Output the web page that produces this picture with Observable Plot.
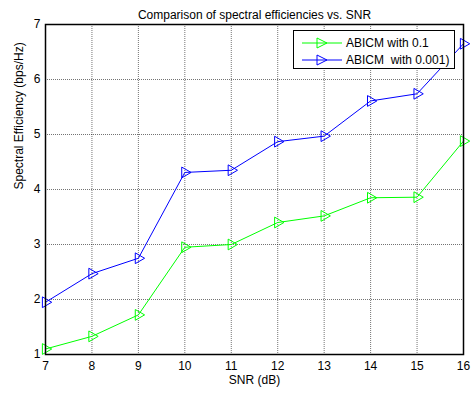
<!DOCTYPE html>
<html>
<head>
<meta charset="utf-8">
<script src="https://cdn.jsdelivr.net/npm/d3@7"></script>
<script src="https://cdn.jsdelivr.net/npm/@observablehq/plot@0.6"></script>
<style>
  body { margin: 0; background: #fff; font-family: "Liberation Sans", Arial, sans-serif; }
  #wrap { position: relative; width: 476px; height: 397px; }
  #legend { position: absolute; left: 293px; top: 30px; width: 162px; height: 39px; border: 1px solid #000; background: #fff; box-sizing: border-box; font-size: 12px; }
  .row { position: absolute; left: 0; height: 14px; display: flex; align-items: center; }
  .row svg { margin-left: 8px; }
  .row span { margin-left: 4px; white-space: pre; }
</style>
</head>
<body>
<div id="wrap"></div>
<script>
const snr = [7, 8, 9, 10, 11, 12, 13, 14, 15, 16];
const eff01 = [1.10, 1.33, 1.72, 2.95, 3.00, 3.40, 3.52, 3.85, 3.86, 4.88];
const eff0001 = [1.95, 2.47, 2.75, 4.31, 4.35, 4.87, 4.97, 5.61, 5.74, 6.65];
const seriesNames = ["ABICM with 0.1", "ABICM  with 0.001)"];
const seriesColors = ["#00ff00", "#0000ff"];
const xTicks = [7, 8, 9, 10, 11, 12, 13, 14, 15, 16];
const yTicks = [1, 2, 3, 4, 5, 6, 7];
const title = "Comparison of spectral efficiencies vs. SNR";
const xLabel = "SNR (dB)";
const yLabel = "Spectral Efficiency (bps/Hz)";

const data = [];
snr.forEach((s, i) => {
  data.push({snr: s, eff: eff01[i], series: seriesNames[0]});
  data.push({snr: s, eff: eff0001[i], series: seriesNames[1]});
});

const chart = Plot.plot({
  width: 476,
  height: 397,
  marginLeft: 45,
  marginRight: 13,
  marginTop: 24,
  marginBottom: 43,
  style: {fontFamily: "Liberation Sans, Arial, sans-serif", fontSize: "11px", color: "#000", background: "#fff"},
  x: {domain: [7, 16]},
  y: {domain: [1, 7]},
  color: {domain: seriesNames, range: seriesColors},
  marks: [
    Plot.gridX(xTicks, {stroke: "#000", strokeOpacity: 0.55, strokeDasharray: "1,1"}),
    Plot.gridY(yTicks, {stroke: "#000", strokeOpacity: 0.55, strokeDasharray: "1,1"}),
    Plot.axisX(xTicks, {tickSize: 0, tickPadding: 7, label: null, fontSize: 12, tickFormat: d => String(d)}),
    Plot.axisY(yTicks, {tickSize: 0, tickPadding: 5, label: null, fontSize: 12, tickFormat: d => String(d)}),
    Plot.line(data, {x: "snr", y: "eff", z: "series", stroke: "series", strokeWidth: 1}),
    Plot.dot(data, {x: "snr", y: "eff", stroke: "series", fill: "none", symbol: "triangle", rotate: 90, r: 4, strokeWidth: 1}),
    Plot.frame({stroke: "#000", strokeWidth: 1.5}),
    Plot.text([title], {frameAnchor: "top", dy: -14, fontSize: 12}),
    Plot.text([xLabel], {frameAnchor: "bottom", dy: 29, fontSize: 12}),
    Plot.text([yLabel], {frameAnchor: "left", dx: -26, rotate: -90, fontSize: 12})
  ]
});
const wrap = document.getElementById("wrap");
wrap.appendChild(chart);

const legend = document.createElement("div");
legend.id = "legend";
seriesNames.forEach((name, i) => {
  const row = document.createElement("div");
  row.className = "row";
  row.style.top = (i === 0 ? 5 : 22) + "px";
  const c = seriesColors[i];
  row.innerHTML = `<svg width="40" height="14"><line x1="0" y1="7" x2="40" y2="7" stroke="${c}" stroke-width="1"/><path d="M15,2 L25,7 L15,12 Z" fill="none" stroke="${c}" stroke-width="1"/></svg><span>${name}</span>`;
  legend.appendChild(row);
});
wrap.appendChild(legend);
</script>
</body>
</html>
